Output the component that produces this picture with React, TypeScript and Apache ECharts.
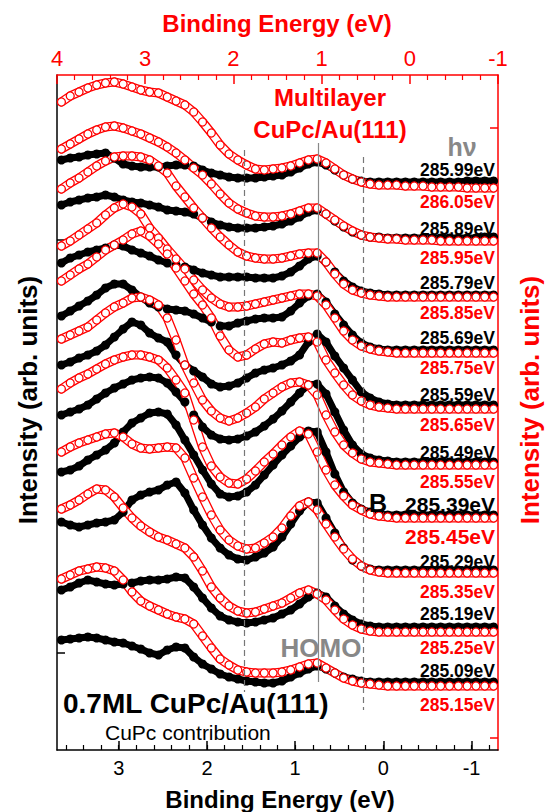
import React, { useEffect, useRef } from "react";
import * as echarts from "echarts";

// Binding energy grid (bottom axis, eV)
const energy = [
  3.65, 3.55, 3.45, 3.35, 3.25, 3.15, 3.05, 2.95, 2.85, 2.75,
  2.65, 2.55, 2.45, 2.35, 2.25, 2.15, 2.05, 1.95, 1.85, 1.75,
  1.65, 1.55, 1.45, 1.35, 1.25, 1.15, 1.05, 0.95, 0.85, 0.75,
  0.65, 0.55, 0.45, 0.35, 0.25, 0.15, 0.05, -0.05, -0.15, -0.25,
  -0.35, -0.45, -0.55, -0.65, -0.75, -0.85, -0.95, -1.05, -1.15, -1.25,
];

// Intensities (arb. units, offset stacked) — red open circles
const r28605 = [648,654,658,662,665,667,668,666,663,660,658,657,653,649,645,638,628,617,605,596,590,585,581,580,581,582,584,587,590,591,587,581,575,571,568,566,565,565,565,564,564,564,563,563,563,563,562,562,562,562];
const r28595 = [601,606,611,616,620,623,624,622,619,616,612,608,603,597,590,582,575,566,556,547,541,537,534,533,533,534,536,539,542,542,536,530,524,519,515,513,512,511,511,510,510,510,510,509,509,509,509,509,509,509];
const r28585 = [561,567,572,578,584,589,593,594,594,593,590,584,577,564,553,542,532,522,513,505,498,494,492,491,491,492,494,496,497,497,488,476,466,460,457,455,454,453,453,453,453,453,453,453,453,453,453,453,453,453];
const r28575 = [504,509,515,521,527,535,542,546,543,536,522,512,501,491,481,470,460,452,446,443,443,444,446,448,450,452,454,456,456,454,445,432,419,410,404,401,399,398,397,397,397,397,397,397,397,397,397,397,397,397];
const r28565 = [469,475,481,486,493,500,505,510,516,519,514,506,496,482,469,456,445,432,414,400,393,395,401,406,408,407,410,412,413,408,390,377,365,355,349,345,343,342,341,341,341,341,341,341,341,341,341,341,341,341];
const r28555 = [411,415,419,423,430,437,443,447,452,453,450,445,432,410,385,367,350,339,332,329,332,337,343,351,357,363,367,368,365,355,335,318,305,297,291,288,287,286,285,285,285,285,285,285,285,285,285,285,285,285];
const r28545 = [361,367,372,376,381,386,390,393,395,395,393,390,382,370,357,330,303,284,273,267,266,271,279,288,296,305,313,319,316,298,280,265,254,245,240,236,234,233,232,232,232,232,232,232,232,232,232,232,232,232];
const r28535 = [298,303,307,310,313,316,317,313,306,302,301,302,303,302,292,272,253,235,220,210,204,201,202,207,213,222,234,244,248,240,226,213,201,191,184,180,178,177,177,177,177,177,177,177,177,177,177,177,177,177];
const r28525 = [241,245,250,256,261,260,253,242,232,224,218,213,210,206,202,193,179,163,152,144,139,137,138,141,144,147,152,157,160,156,150,140,131,125,121,119,118,118,118,118,118,118,118,118,118,118,118,118,118,118];
const r28515 = [171,175,179,181,183,182,179,170,158,149,144,140,136,133,131,126,114,102,91,85,80,78,77,77,77,78,80,83,86,87,82,77,72,69,67,66,65,64,64,64,64,64,64,64,64,64,64,64,64,64];

// Black filled circles
const b28599 = [590,592,593,595,596,597,592,586,584,583,583,583,584,585,585,584,580,577,575,573,572,572,572,573,574,575,578,582,586,588,585,580,575,571,569,568,568,568,568,568,568,568,568,568,568,568,569,569,569,569];
const b28589 = [545,548,550,552,553,555,553,550,548,547,545,543,540,539,538,536,532,528,525,523,522,522,522,523,524,526,529,533,538,540,536,529,523,518,515,513,513,512,512,512,512,512,512,512,512,512,512,512,513,513];
const b28579 = [487,492,495,498,500,502,505,504,500,497,494,490,487,485,483,480,477,475,473,473,473,473,472,472,472,474,478,484,491,494,488,478,469,463,459,457,456,455,455,455,455,455,455,455,455,455,455,455,455,455];
const b28569 = [434,439,444,449,455,462,466,466,460,453,447,443,441,440,439,436,432,428,424,424,427,429,431,432,432,433,439,447,454,456,448,436,425,415,407,403,401,400,400,400,400,400,400,400,400,400,400,400,400,400];
const b28559 = [385,388,392,395,399,405,413,421,428,425,417,412,408,395,385,379,373,366,363,364,367,372,377,380,382,385,389,395,408,416,408,394,382,370,358,352,348,346,345,345,345,345,345,345,345,345,345,345,345,345];
const b28549 = [335,338,341,345,351,357,362,366,370,372,373,372,367,358,348,335,323,315,311,310,311,314,318,324,331,339,348,357,365,366,356,338,320,305,296,292,290,289,288,288,288,288,288,288,288,288,288,288,288,288];
const b28539 = [278,280,284,290,295,300,307,318,327,332,337,338,336,325,310,295,280,266,256,253,254,258,265,275,285,295,304,313,319,318,298,276,258,247,241,238,236,235,235,235,235,235,235,235,235,235,235,235,235,235];
const b28529 = [228,225,223,225,227,228,230,238,250,255,258,260,265,268,257,240,225,212,202,195,191,190,193,197,203,213,226,239,248,247,232,217,202,190,184,181,180,180,180,180,180,180,180,180,180,180,180,180,180,180];
const b28519 = [160,163,167,170,168,166,165,166,167,169,170,170,171,173,172,163,152,142,134,130,128,127,128,130,132,136,140,146,153,157,153,144,136,130,126,124,123,123,123,123,123,123,123,123,123,123,123,123,123,123];
const b28509 = [110,111,112,113,112,110,108,107,104,101,97,95,100,103,102,93,86,81,76,73,71,69,68,67,67,69,73,77,81,84,81,77,73,71,69,68,68,68,68,68,68,68,68,68,68,68,68,68,68,68];

const blackSeries = [b28599, b28589, b28579, b28569, b28559, b28549, b28539, b28529, b28519, b28509];
const redSeries = [r28605, r28595, r28585, r28575, r28565, r28555, r28545, r28535, r28525, r28515];
const blackLabels = ["285.99eV", "285.89eV", "285.79eV", "285.69eV", "285.59eV", "285.49eV", "285.39eV", "285.29eV", "285.19eV", "285.09eV"];
const redLabels = ["286.05eV", "285.95eV", "285.85eV", "285.75eV", "285.65eV", "285.55eV", "285.45eV", "285.35eV", "285.25eV", "285.15eV"];

// axis ticks
const bottomMajor = [-1, 0, 1, 2, 3];
const bottomMinor = [-1.2, -1.0, -0.8, -0.6, -0.4, -0.2, 0, 0.2, 0.4, 0.6, 0.8, 1.0, 1.2, 1.4, 1.6, 1.8, 2.0, 2.2, 2.4, 2.6, 2.8, 3.0, 3.2, 3.4, 3.6];
const leftTicks = [510, 97];
const rightTicks = [622, 12];
// reference lines: [energy, from, to, style]
const refLines = [
  [1.58, 600, 58, "dashed"],
  [0.74, 607, 68, "solid"],
  [0.23, 593, 40, "dashed"],
];

const FONT = '"Liberation Sans", Arial, Helvetica, sans-serif';
const RED = "#ff0000";

export default function App() {
  const ref = useRef<HTMLDivElement>(null);
  useEffect(() => {
    if (!ref.current) return;
    const chart = echarts.init(ref.current, null, { renderer: "svg" });
    const series: any[] = [];
    series.push({
      type: "line",
      data: [],
      xAxisIndex: 0,
      yAxisIndex: 0,
      z: 1,
      markLine: {
        silent: true,
        symbol: ["none", "none"],
        label: { show: false },
        data: refLines.map((r) => [
          {
            coord: [r[0], r[1]],
            lineStyle: { type: r[3] === "dashed" ? [6, 4] : "solid", color: r[3] === "dashed" ? "#777" : "#888", width: 1.2 },
          },
          { coord: [r[0], r[2]] },
        ]),
      },
    });
    for (let k = 0; k < 10; k++) {
      const bd = energy.map((e, i) => [e, blackSeries[k][i]]);
      const rd = energy.map((e, i) => [e, redSeries[k][i]]);
      series.push({
        type: "line",
        name: blackLabels[k],
        xAxisIndex: 0,
        yAxisIndex: 0,
        z: 2,
        data: bd,
        symbol: "circle",
        symbolSize: 9,
        showSymbol: true,
        itemStyle: { color: "#000" },
        lineStyle: { color: "#000", width: 7 },
        silent: true,
      });
      // open-circle band (outer red edge)
      series.push({
        type: "line",
        name: redLabels[k] + " edge",
        xAxisIndex: 0,
        yAxisIndex: 0,
        z: 2,
        data: rd,
        showSymbol: false,
        symbol: "none",
        lineStyle: { color: RED, width: 9.2, cap: "round", join: "round" },
        silent: true,
      });
      series.push({
        type: "line",
        name: redLabels[k] + " fill",
        xAxisIndex: 0,
        yAxisIndex: 0,
        z: 2,
        data: rd,
        showSymbol: false,
        symbol: "none",
        lineStyle: { color: "#fff", width: 6.6, cap: "round", join: "round" },
        silent: true,
      });
      series.push({
        type: "line",
        name: redLabels[k],
        xAxisIndex: 0,
        yAxisIndex: 0,
        z: 2,
        data: rd,
        symbol: "circle",
        symbolSize: 8,
        showSymbol: true,
        itemStyle: { color: "#fff", borderColor: RED, borderWidth: 1.3 },
        lineStyle: { opacity: 0, width: 0 },
        silent: true,
      });
    }

    const graphic: any[] = [];
    const txt = (x: number, y: number, text: string, font: string, fill: string, align = "center", rotation = 0) => ({
      type: "text",
      x,
      y,
      rotation,
      z: 100,
      style: { text, font, fill, textAlign: align, textVerticalAlign: "middle", align, verticalAlign: "middle" },
    });
    graphic.push(txt(277, 23, "Binding Energy (eV)", `bold 24px ${FONT}`, RED));
    graphic.push(txt(280, 799, "Binding Energy (eV)", `bold 24px ${FONT}`, "#000"));
    graphic.push(txt(28, 400, "Intensity (arb. units)", `bold 26px ${FONT}`, "#000", "center", Math.PI / 2));
    graphic.push(txt(530, 400, "Intensity (arb. units)", `bold 26px ${FONT}`, RED, "center", Math.PI / 2));
    graphic.push(txt(330, 97, "Multilayer", `bold 24px ${FONT}`, RED));
    graphic.push(txt(330, 129, "CuPc/Au(111)", `bold 24px ${FONT}`, RED));
    graphic.push(txt(462, 147, "hν", `bold 25px ${FONT}`, "#888"));
    graphic.push(txt(321, 648, "HOMO", `bold 26px ${FONT}`, "#888"));
    graphic.push(txt(63, 703, "0.7ML CuPc/Au(111)", `bold 28px ${FONT}`, "#000", "left"));
    graphic.push(txt(105, 732, "CuPc contribution", `21px ${FONT}`, "#000", "left"));
    graphic.push(txt(378, 503, "B", `bold 25px ${FONT}`, "#000"));
    const blackY = [170, 229, 283, 338, 395, 453, 504, 562, 614, 671];
    const redY = [202, 258, 313, 368, 425, 482, 536, 592, 648, 705];
    for (let k = 0; k < 10; k++) {
      const big = k === 6;
      graphic.push(txt(495, blackY[k], blackLabels[k], `bold ${big ? 21 : 17.5}px ${FONT}`, "#000", "right"));
      graphic.push(txt(495, redY[k], redLabels[k], `bold ${big ? 21 : 17.5}px ${FONT}`, RED, "right"));
    }

    chart.setOption({
      animation: false,
      textStyle: { fontFamily: FONT },
      grid: { left: 57, right: 49, top: 75, bottom: 62, containLabel: false },
      xAxis: [
        {
          type: "value",
          position: "bottom",
          min: -1.3,
          max: 3.7,
          inverse: true,
          axisLine: { show: true, onZero: false, lineStyle: { color: "#000", width: 1.5 } },
          axisTick: { show: true, inside: true, length: 9, customValues: bottomMajor, lineStyle: { color: "#000", width: 1.5 } },
          axisLabel: { show: true, customValues: bottomMajor, fontSize: 20, color: "#000", margin: 8, fontFamily: FONT },
          splitLine: { show: false },
        },
        {
          type: "value",
          position: "bottom",
          min: -1.3,
          max: 3.7,
          inverse: true,
          axisLine: { show: false, onZero: false },
          axisTick: { show: true, inside: true, length: 5, customValues: bottomMinor, lineStyle: { color: "#000", width: 1.2 } },
          axisLabel: { show: false },
          splitLine: { show: false },
        },
        {
          type: "value",
          position: "top",
          min: -1,
          max: 4,
          interval: 1,
          inverse: true,
          axisLine: { show: true, onZero: false, lineStyle: { color: RED, width: 1.5 } },
          axisTick: { show: true, inside: true, length: 9, lineStyle: { color: RED, width: 1.5 } },
          minorTick: { show: true, splitNumber: 5, length: 5, lineStyle: { color: RED, width: 1.2 } },
          axisLabel: { show: true, fontSize: 22, color: RED, margin: 6, fontFamily: FONT },
          splitLine: { show: false },
          minorSplitLine: { show: false },
        },
      ],
      yAxis: [
        {
          type: "value",
          position: "left",
          min: 0,
          max: 675,
          axisLine: { show: true, onZero: false, lineStyle: { color: "#000", width: 1.5 } },
          axisTick: { show: true, inside: true, length: 8, customValues: leftTicks, lineStyle: { color: "#000", width: 1.5 } },
          axisLabel: { show: false },
          splitLine: { show: false },
        },
        {
          type: "value",
          position: "right",
          min: 0,
          max: 675,
          axisLine: { show: true, onZero: false, lineStyle: { color: RED, width: 1.5 } },
          axisTick: { show: true, inside: true, length: 8, customValues: rightTicks, lineStyle: { color: RED, width: 1.5 } },
          axisLabel: { show: false },
          splitLine: { show: false },
        },
      ],
      series,
      graphic,
    });
    return () => chart.dispose();
  }, []);
  return <div ref={ref} style={{ position: "absolute", left: 0, top: 0, width: 547, height: 812, background: "#fff" }} />;
}
